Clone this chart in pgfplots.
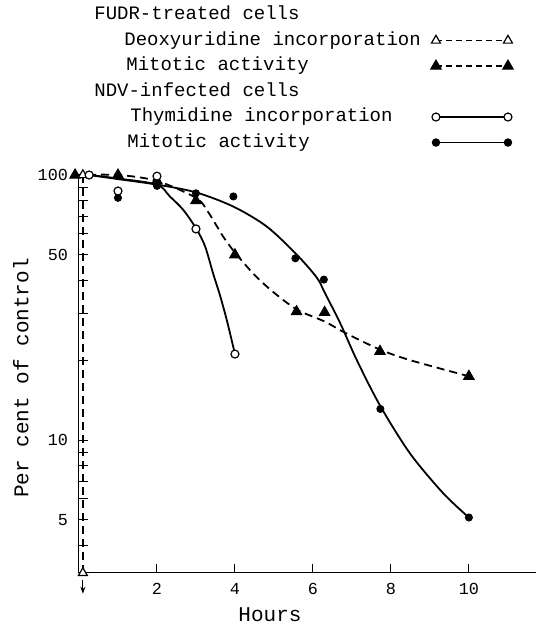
\documentclass[border=0pt]{standalone}
\usepackage{fontspec}
\setmainfont{Liberation Mono}
\usepackage{pgfplots}
\pgfplotsset{compat=1.18}
\usetikzlibrary{arrows.meta}

\begin{document}
\begin{tikzpicture}
\begin{axis}[
    scale only axis,
    width=228.5pt, height=199pt,
    xmin=0, xmax=11.72,
    ymode=log, ymin=3.15, ymax=100,
    axis x line=bottom, axis y line=left,
    axis line style={-, line width=0.5pt},
    clip=false,
    xtick={2,4,6,8,10},
    ytick={5,10,50,100}, yticklabels={5,10,50,100},
    minor ytick={4,6,7,8,9,20,30,40,60,70,80,90},
    tick align=inside,
    major tick length=4.5pt, minor tick length=4.5pt,
    tick style={line width=0.5pt, black},
    /pgf/number format/assume math mode=true,
    tick label style={font=\fontsize{8.4}{9}\selectfont},
    yticklabel style={xshift=-2pt},
    xticklabel style={yshift=-1.5pt},
    xlabel={Hours}, ylabel={Per cent of control},
    label style={font=\fontsize{10.5}{12}\selectfont},
    xlabel style={at={(axis description cs:0.418,0)}, anchor=center, yshift=-21pt},
    ylabel style={at={(axis description cs:-0.127,0.49)}, anchor=center},
    legend plot pos=right,
    legend cell align=left,
    legend style={at={(axis cs:0.23,453)}, anchor=north west, draw=none, fill=none,
        font=\fontsize{9.5}{11}\selectfont, row sep=3.25pt,
        nodes={inner sep=0pt, text height=7pt, text depth=2.5pt},
        /tikz/every odd column/.append style={column sep=5pt}},
    legend image code/.code={\draw[mark repeat=2,mark phase=1,#1] plot coordinates {(0pt,0pt) (18pt,0pt) (36pt,0pt)};},
    dashline/.style={line width=0.9pt, dash pattern=on 4pt off 2.5pt},
    solidline/.style={line width=0.9pt},
    ftri/.style={mark=triangle*, mark size=3pt, mark options={solid, fill=black, line width=0.5pt}},
    otri/.style={mark=triangle*, mark size=2.6pt, mark options={solid, fill=white, line width=0.6pt}},
    ocirc/.style={mark=*, mark size=2pt, mark options={solid, fill=white, line width=0.6pt}},
    fcirc/.style={mark=*, mark size=1.8pt, mark options={solid, fill=black}},
]

% fitted curves
\addplot[forget plot, black, dashline] coordinates {(0.1,100) (0.1,3.15)};
\addplot[forget plot, black, line width=0.5pt, -{Stealth[length=3.5pt,width=2.5pt]}] coordinates {(0.1,2.97) (0.1,2.63)};
\addplot[forget plot, black, dashline, smooth, tension=0.5] coordinates {
    (-0.1,100) (1,100) (2,95) (3,82) (3.3,73) (3.7,58.5) (4,51) (4.5,42) (5,36)
    (5.6,31) (6.3,28) (6.8,25.5) (7.7,22) (8.5,20) (10,17.4)};
\addplot[forget plot, black, solidline, smooth, tension=0.5] coordinates {
    (0.26,100) (1,97) (2,92) (2.33,83) (2.67,74) (3,63) (3.23,54) (3.44,42.5)
    (3.62,35) (3.8,28) (4,21.1)};
\addplot[forget plot, black, solidline, smooth, tension=0.5] coordinates {
    (0.26,100) (1,96.5) (2,92) (3,86) (3.96,76) (4.81,64) (5.56,50.5) (6.1,41)
    (6.31,35.8) (6.7,27.6) (7.12,20.1) (7.72,13.5) (8.49,8.9) (9.34,6.3) (10,5.1)};

% data points
\addplot[forget plot, only marks, black, ftri] coordinates {
    (-0.1,100) (1,100) (2,95) (3,80) (4,50) (5.58,30.5) (6.3,30.3) (7.72,21.6) (10,17.4)};
\addplot[forget plot, only marks, black, fcirc] coordinates {
    (1,82) (2,91) (3,85.3) (3.96,83) (5.55,48.5) (6.28,40.3) (7.73,13.1) (10,5.1)};
\addplot[forget plot, only marks, black, otri] coordinates {(0.1,100) (0.1,3.15)};
\addplot[forget plot, only marks, black, ocirc] coordinates {
    (0.26,100) (1,87) (2,99) (3,62.6) (4,21.1)};

% legend
\addlegendimage{empty legend}
\addlegendentry{FUDR-treated cells}
\addlegendimage{black, line width=0.6pt, dash pattern=on 3pt off 2pt, otri}
\addlegendentry{\hspace*{15pt}Deoxyuridine incorporation}
\addlegendimage{black, line width=0.6pt, dash pattern=on 3pt off 2pt, ftri}
\addlegendentry{\hspace*{16pt}Mitotic activity}
\addlegendimage{empty legend}
\addlegendentry{NDV-infected cells}
\addlegendimage{black, line width=0.6pt, ocirc}
\addlegendentry{\hspace*{18pt}Thymidine incorporation}
\addlegendimage{black, line width=0.6pt, fcirc}
\addlegendentry{\hspace*{16.5pt}Mitotic activity}

\coordinate (bbsw) at (axis cs:-2.026,1.97);
\coordinate (bbne) at (axis cs:11.72,457.5);
\end{axis}
\pgfresetboundingbox
\path[use as bounding box] (bbsw) rectangle (bbne);
\end{tikzpicture}
\end{document}
